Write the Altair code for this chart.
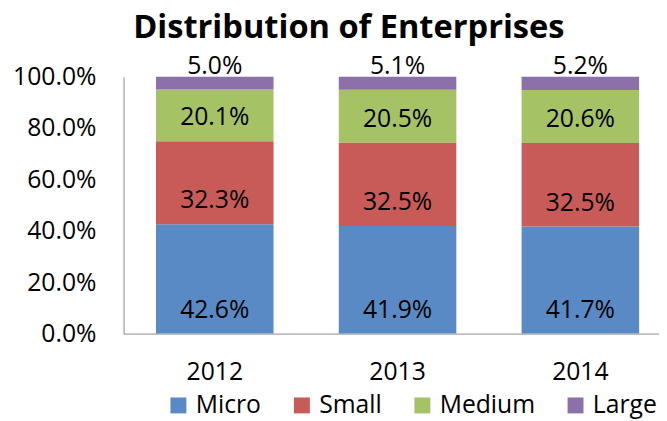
import altair as alt
import pandas as pd

years = ["2012", "2013", "2014"]
categories = ["Micro", "Small", "Medium", "Large"]
micro = [42.6, 41.9, 41.7]
small = [32.3, 32.5, 32.5]
medium = [20.1, 20.5, 20.6]
large = [5.0, 5.1, 5.2]
colors = ["#5A8AC6", "#C85B58", "#A5C265", "#8B70AA"]

series = {"Micro": micro, "Small": small, "Medium": medium, "Large": large}
rows = []
for ci, cat in enumerate(categories):
    for yi, yr in enumerate(years):
        rows.append({"year": yr, "category": cat, "order": ci, "value": series[cat][yi]})
df = pd.DataFrame(rows)

FONT = "Open Sans"

base = alt.Chart(df).transform_calculate(
    frac="datum.value / 100"
).transform_stack(
    stack="frac", groupby=["year"], sort=[alt.SortField("order", order="ascending")],
    as_=["y0", "y1"]
)

xenc = alt.X("year:N", title=None,
             scale=alt.Scale(paddingInner=0.357, paddingOuter=0.143, align=0.62),
             axis=alt.Axis(labelAngle=0, labelFontSize=25, labelFont=FONT, labelColor="#000",
                           ticks=False, domainColor="#8a8a8a", labelPadding=27))

bars = base.mark_bar().encode(
    x=xenc,
    y=alt.Y("y0:Q", title=None,
            scale=alt.Scale(domain=[0, 1], nice=False),
            axis=alt.Axis(format=".1%", values=[0, 0.2, 0.4, 0.6, 0.8, 1.0], grid=False,
                          ticks=False, domainColor="#8a8a8a", labelFontSize=25,
                          labelFont=FONT, labelColor="#000", labelPadding=28)),
    y2="y1:Q",
    color=alt.Color("category:N",
                    scale=alt.Scale(domain=categories, range=colors),
                    sort=categories,
                    legend=alt.Legend(title=None, orient="none", direction="horizontal",
                                      legendX=43, legendY=320, symbolType="square",
                                      symbolSize=260, symbolStrokeWidth=0, labelFontSize=25,
                                      labelFont=FONT, labelColor="#000", columnPadding=28,
                                      labelOffset=5)),
)

labels = base.mark_text(fontSize=25, font=FONT, color="#000", baseline="middle", dy=-24).encode(
    x=alt.X("year:N"),
    y=alt.Y("y0:Q"),
).transform_calculate(
    lbl="format(datum.value, '.1f') + '%'"
).encode(text="lbl:N")

chart = alt.layer(bars, labels).properties(
    width=542, height=260,
    autosize=alt.AutoSizeParams(type="none"),
    padding={"left": 117, "top": 67, "right": 0, "bottom": 92},
    title=alt.TitleParams("Distribution of Enterprises", font=FONT, fontSize=33,
                          fontWeight="bold", color="#000", anchor="middle", frame="group",
                          dx=-43, baseline="alphabetic", offset=-17),
).configure_view(stroke=None)

chart.save("out.html", embed_options={"renderer": "svg", "actions": False})
